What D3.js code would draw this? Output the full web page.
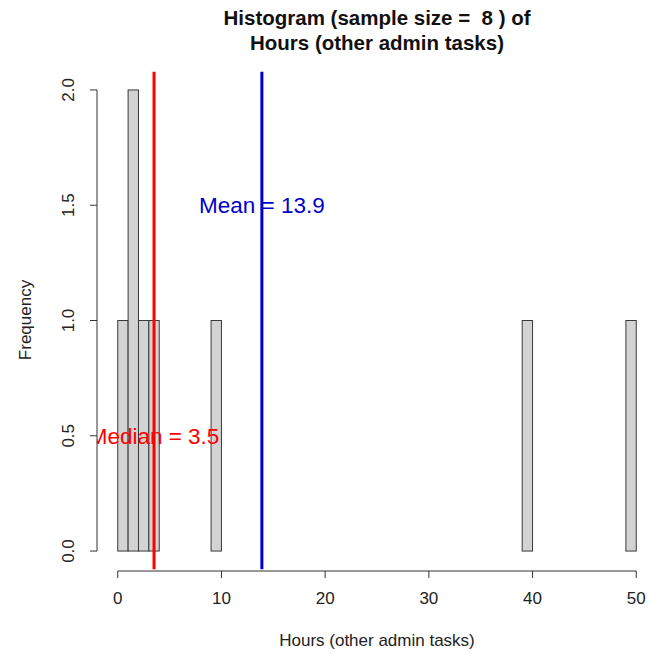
<!DOCTYPE html>
<html>
<head>
<meta charset="utf-8">
<script src="https://cdn.jsdelivr.net/npm/d3@7"></script>
<style>
  body { margin: 0; background: #fff; }
  text { font-family: "Liberation Sans", Arial, sans-serif; white-space: pre; }
</style>
</head>
<body>
<div id="chart"></div>
<script>
// histogram bins of width 1 from 0 to 50
var binStart = [0,1,2,3,4,5,6,7,8,9,10,11,12,13,14,15,16,17,18,19,20,21,22,23,24,
                25,26,27,28,29,30,31,32,33,34,35,36,37,38,39,40,41,42,43,44,45,46,47,48,49];
var counts   = [1,2,1,1,0,0,0,0,0,1,0,0,0,0,0,0,0,0,0,0,0,0,0,0,0,
                0,0,0,0,0,0,0,0,0,0,0,0,0,0,1,0,0,0,0,0,0,0,0,0,1];
var binWidth = 1;
var xTicks = [0, 10, 20, 30, 40, 50];
var yTicks = [0, 0.5, 1, 1.5, 2];
var meanVal = 13.9, medianVal = 3.5;
var titleLines = ["Histogram (sample size =  8 ) of", "Hours (other admin tasks)"];

var W = 648, H = 654;
var svg = d3.select('#chart').append('svg')
  .attr('width', W).attr('height', H);

// plot region (R style, 4% padding on the data range)
var x = d3.scaleLinear().domain([-2, 52]).range([97, 657]);
var y = d3.scaleLinear().domain([-0.08, 2.08]).range([569.5, 71.5]);

svg.append('clipPath').attr('id', 'plotclip')
  .append('rect')
  .attr('x', x(-2)).attr('y', y(2.08))
  .attr('width', x(52) - x(-2)).attr('height', y(-0.08) - y(2.08));

// bars
svg.append('g').selectAll('rect')
  .data(binStart.map(function(b, i) { return {x0: b, n: counts[i]}; }))
  .enter().append('rect')
  .attr('x', function(d) { return x(d.x0); })
  .attr('y', function(d) { return y(d.n); })
  .attr('width', function(d) { return x(d.x0 + binWidth) - x(d.x0); })
  .attr('height', function(d) { return y(0) - y(d.n); })
  .attr('fill', '#d3d3d3')
  .attr('stroke', '#3a3a3a')
  .attr('stroke-width', 1);

// x axis
var xg = svg.append('g').attr('transform', 'translate(0,571)');
xg.append('line')
  .attr('x1', x(xTicks[0])).attr('x2', x(xTicks[xTicks.length - 1]))
  .attr('stroke', '#333');
xg.selectAll('.tk').data(xTicks).enter().append('line')
  .attr('x1', function(d) { return x(d); }).attr('x2', function(d) { return x(d); })
  .attr('y1', 0).attr('y2', 7).attr('stroke', '#333');
xg.selectAll('text').data(xTicks).enter().append('text')
  .attr('x', function(d) { return x(d); }).attr('y', 33)
  .attr('text-anchor', 'middle').attr('font-size', 17).attr('fill', '#222')
  .text(function(d) { return d; });

// y axis
var yg = svg.append('g').attr('transform', 'translate(97,0)');
yg.append('line')
  .attr('y1', y(yTicks[0])).attr('y2', y(yTicks[yTicks.length - 1]))
  .attr('stroke', '#333');
yg.selectAll('.tk').data(yTicks).enter().append('line')
  .attr('y1', function(d) { return y(d); }).attr('y2', function(d) { return y(d); })
  .attr('x1', 0).attr('x2', -7).attr('stroke', '#333');
yg.selectAll('text').data(yTicks).enter().append('text')
  .attr('transform', function(d) { return 'translate(-23,' + y(d) + ') rotate(-90)'; })
  .attr('text-anchor', 'middle').attr('font-size', 17).attr('fill', '#222')
  .text(function(d) { return d3.format('.1f')(d); });

// axis titles
svg.append('text')
  .attr('x', 377).attr('y', 646)
  .attr('text-anchor', 'middle').attr('font-size', 17).attr('fill', '#222')
  .text('Hours (other admin tasks)');
svg.append('text')
  .attr('transform', 'translate(31,320) rotate(-90)')
  .attr('text-anchor', 'middle').attr('font-size', 17).attr('fill', '#222')
  .text('Frequency');

// main title
svg.append('g').selectAll('text').data(titleLines).enter().append('text')
  .attr('x', 377).attr('y', function(d, i) { return 25 + i * 25; })
  .attr('text-anchor', 'middle').attr('font-size', 20.5).attr('font-weight', 'bold')
  .attr('fill', '#111')
  .text(function(d) { return d; });

// mean / median lines and labels
var marks = [
  {v: medianVal, label: 'Median = ' + medianVal, ty: 0.5, col: '#ff0000'},
  {v: meanVal, label: 'Mean = ' + meanVal, ty: 1.5, col: '#0000cc'}
];
var mg = svg.append('g').attr('clip-path', 'url(#plotclip)');
mg.selectAll('line').data(marks).enter().append('line')
  .attr('x1', function(d) { return x(d.v); }).attr('x2', function(d) { return x(d.v); })
  .attr('y1', y(2.08)).attr('y2', y(-0.08))
  .attr('stroke', function(d) { return d.col; }).attr('stroke-width', 3);
mg.selectAll('text').data(marks).enter().append('text')
  .attr('x', function(d) { return x(d.v); })
  .attr('y', function(d) { return y(d.ty); })
  .attr('dy', '0.35em')
  .attr('text-anchor', 'middle').attr('font-size', 22.5)
  .attr('fill', function(d) { return d.col; })
  .text(function(d) { return d.label; });
</script>
</body>
</html>
